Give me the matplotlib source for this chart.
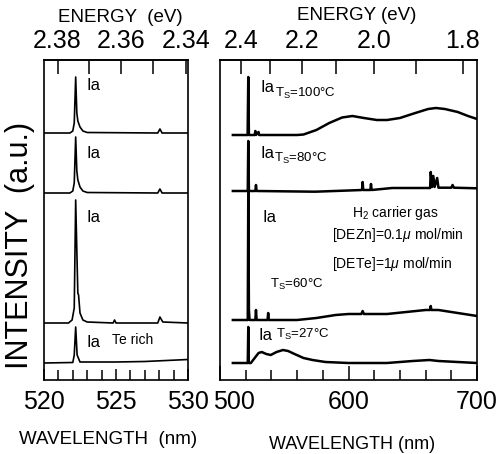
import numpy as np
import matplotlib
matplotlib.use("Agg")
from matplotlib import pyplot as plt
from matplotlib.ticker import FixedLocator
from matplotlib.transforms import ScaledTranslation

plt.rcParams["font.family"] = ["Liberation Sans", "DejaVu Sans"]
plt.rcParams["mathtext.fontset"] = "custom"
plt.rcParams["mathtext.rm"] = "Liberation Sans"
plt.rcParams["mathtext.it"] = "Liberation Sans:italic"

HC = 1239.84  # eV nm

# ---- left panel: Ia line, 520-530 nm (intensity in a.u., relative to baseline)
left_offsets = [247, 187, 57, 17]
left_wl = [
    [520.0, 521.8, 522.0, 522.1, 522.2, 522.28, 522.35, 522.5, 522.7, 523.0, 527.9, 528.05, 528.2, 530.0],
    [520.0, 521.8, 522.0, 522.1, 522.2, 522.28, 522.35, 522.5, 522.7, 523.0, 527.9, 528.05, 528.2, 530.0],
    [520.0, 521.7, 521.95, 522.1, 522.2, 522.3, 522.35, 522.4, 522.5, 522.7, 523.0,
     524.8, 524.9, 525.0, 527.9, 528.05, 528.25, 530.0],
    [520.0, 522.0, 522.1, 522.2, 522.3, 522.5, 525.0, 527.0, 528.5, 530.0],
]
left_int = [
    [0, 0, 2, 10, 56, 20, 12, 6, 2, 0.5, 0, 4, 0, 0],
    [0, 0, 2, 10, 56, 22, 13, 6, 2, 0.5, 0, 4, 0, 0],
    [0, 0, 3, 15, 123, 60, 30, 28, 10, 3, 1, 0, 3, 0, 0, 6, 1, 0],
    [0, 0.5, 8, 36, 8, 1, 1, 1.5, 2.5, 3.5],
]

# ---- right panel: 500-700 nm, four substrate temperatures
right_offsets = [245, 189, 60, 17]
right_temps = ["100", "80", "60", "27"]
right_wl = [
    [510, 521.5, 522, 522.5, 527, 527.5, 528, 530, 530.5, 560, 565, 575, 585, 595, 603, 612,
     622, 630, 640, 652, 662, 668, 675, 685, 693, 700],
    [510, 521.6, 522, 522.5, 527.5, 528, 528.5, 574, 600, 610.5, 611, 611.5, 617, 617.5, 618,
     634, 663.5, 664, 665, 666, 667, 669, 670, 680, 681, 682, 700],
    [510, 521.6, 522, 522.5, 523, 527.5, 528, 528.5, 537, 537.5, 538, 560, 575, 590, 600, 610,
     611, 612, 630, 645, 660, 663.5, 664, 664.5, 670, 680, 690, 700],
    [510, 521.6, 522, 522.4, 524, 527, 530, 532.5, 536, 539.5, 544, 549, 553, 558, 565, 572,
     582, 600, 630, 650, 663, 670, 685, 700],
]
right_int = [
    [0, 0, 58, 0, 0, 4, 0, 3, 0, 0, 0.5, 5, 12, 17.5, 19, 17, 15, 15, 17, 22, 26, 27, 26, 23, 19, 16],
    [0, 0, 50, 0, 0, 6, 0, -0.7, 0.5, 1, 9, 1, 1, 7, 1, 3, 3, 19, 4, 15, 4, 13, 3.3, 3.3, 6, 3.3, 2.7],
    [0, 0, 128, 10, 0, 0, 10, 0, 0, 7, 0, 0, 2, 5, 6, 6, 9, 6, 6, 8, 10, 10, 14, 10, 10, 8, 6, 4],
    [0, 0, 36, 0, 0, 5, 10, 11, 9, 8, 11, 13, 12, 9, 5, 3, 1, 0, 0, 2, 3, 2, 1, 0],
]

fig = plt.figure(figsize=(5.01, 4.54), dpi=100)
W, H = 501, 454


def px_axes(x0, y0, x1, y1):
    return fig.add_axes([x0 / W, 1 - y1 / H, (x1 - x0) / W, (y1 - y0) / H])


axL = px_axes(44, 60, 188, 380)
axR = px_axes(220, 60, 477, 380)

for ax in (axL, axR):
    ax.set_ylim(0, 320)
    ax.set_yticks([])
    for s in ax.spines.values():
        s.set_linewidth(1.2)
    ax.tick_params(axis="x", which="both", direction="in", top=False,
                   labelsize=18, pad=7, width=1.1)
    ax.tick_params(axis="x", which="major", length=8)
    ax.tick_params(axis="x", which="minor", length=7)

# left spectra
for wl, inten, off in zip(left_wl, left_int, left_offsets):
    axL.plot(wl, np.array(inten) + off, color="black", lw=1.2)
axL.set_xlim(520, 530)
axL.set_xticks([520, 525, 530])
axL.xaxis.set_minor_locator(FixedLocator(np.arange(521, 530, 1)))

# right spectra
for wl, inten, off in zip(right_wl, right_int, right_offsets):
    axR.plot(wl, np.array(inten) + off, color="black", lw=1.8)
axR.set_xlim(500, 700)
axR.set_xticks([500, 600, 700])
axR.xaxis.set_minor_locator(FixedLocator(np.arange(520, 700, 20)))
axR.tick_params(axis="x", which="major", length=10)

# energy axes on top
secL = axL.secondary_xaxis("top", functions=(lambda x: HC / x, lambda e: HC / e))
secL.set_xticks([2.38, 2.36, 2.34])
secL.set_xticklabels(["2.38", "2.36", "2.34"])
secL.xaxis.set_minor_locator(FixedLocator([2.37, 2.35]))
secR = axR.secondary_xaxis("top", functions=(lambda x: HC / x, lambda e: HC / e))
secR.set_xticks([2.4, 2.2, 2.0, 1.8])
secR.set_xticklabels(["2.4", "2.2", "2.0", "1.8"])
secR.xaxis.set_minor_locator(FixedLocator([2.3, 2.1, 1.9]))
for sec in (secL, secR):
    sec.tick_params(which="both", direction="in", labelsize=18, pad=5, width=1.1, length=10)
    sec.spines["top"].set_linewidth(1.2)

# shift "500" to the right, clear of "530"
lab500 = axR.get_xticklabels()[0]
lab500.set_transform(lab500.get_transform() + ScaledTranslation(0.14, 0, fig.dpi_scale_trans))


def px_text(x, y, s, **kw):
    fig.text(x / W, 1 - y / H, s, **kw)


# left panel labels
for y in (90, 158, 222, 347):
    px_text(87, y, "Ia", fontsize=12, va="baseline")
px_text(112, 344, "Te rich", fontsize=10, va="baseline")

# right panel labels
ia_pos = [(260, 92), (260, 158), (262, 222), (258, 340)]
ts_pos = [(275, 97), (274, 162), (270, 288), (276, 338)]
for (xi, yi), (xt, yt), t in zip(ia_pos, ts_pos, right_temps):
    px_text(xi, yi, "Ia", fontsize=12, va="baseline")
    px_text(xt, yt, r"T$_{\mathregular{S}}$=" + t + "°C", fontsize=9.5, va="baseline")

px_text(352, 217, r"H$_{\mathregular{2}}$ carrier gas", fontsize=10, va="baseline")
px_text(332, 239, r"[DEZn]=0.1$\mu$ mol/min", fontsize=10, va="baseline")
px_text(332, 268, r"[DETe]=1$\mu$ mol/min", fontsize=10, va="baseline")

# axis titles
px_text(120, 22, "ENERGY  (eV)", fontsize=13.5, ha="center", va="baseline")
px_text(357, 20, "ENERGY (eV)", fontsize=13.5, ha="center", va="baseline")
px_text(108, 444, "WAVELENGTH  (nm)", fontsize=13.5, ha="center", va="baseline")
px_text(352, 449, "WAVELENGTH (nm)", fontsize=13, ha="center", va="baseline")
px_text(20, 245, "INTENSITY  (a.u.)", fontsize=22, rotation=90, ha="center", va="center")

fig.savefig("out.png", dpi=100)
